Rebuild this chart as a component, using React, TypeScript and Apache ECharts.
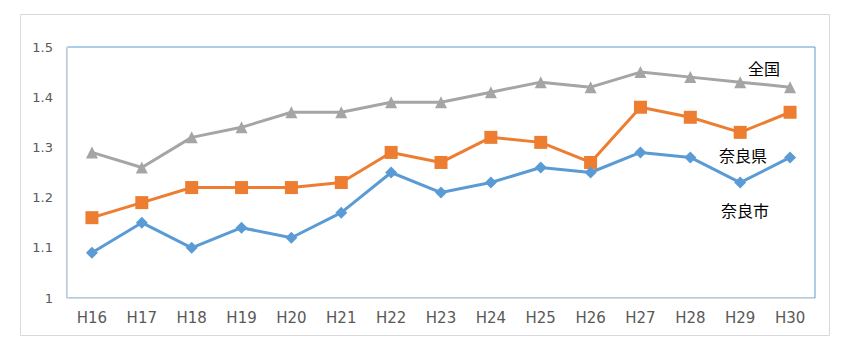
import React, { useEffect, useRef } from "react";
import * as echarts from "echarts";

const categories = ["H16", "H17", "H18", "H19", "H20", "H21", "H22", "H23", "H24", "H25", "H26", "H27", "H28", "H29", "H30"];
const zenkoku = [1.29, 1.26, 1.32, 1.34, 1.37, 1.37, 1.39, 1.39, 1.41, 1.43, 1.42, 1.45, 1.44, 1.43, 1.42];
const naraKen = [1.16, 1.19, 1.22, 1.22, 1.22, 1.23, 1.29, 1.27, 1.32, 1.31, 1.27, 1.38, 1.36, 1.33, 1.37];
const naraShi = [1.09, 1.15, 1.10, 1.14, 1.12, 1.17, 1.25, 1.21, 1.23, 1.26, 1.25, 1.29, 1.28, 1.23, 1.28];
const seriesNames = ["全国", "奈良県", "奈良市"];

export default function App() {
  const ref = useRef<HTMLDivElement>(null);
  useEffect(() => {
    if (!ref.current) return;
    const chart = echarts.init(ref.current, null, { renderer: "svg" });
    const labelFont = "'Noto Sans CJK JP', sans-serif";
    chart.setOption({
      animation: false,
      backgroundColor: "#ffffff",
      grid: {
        left: 67,
        top: 47,
        right: 39,
        bottom: 56,
        show: true,
        borderColor: "#5B9BD5",
        borderWidth: 1,
      },
      xAxis: {
        type: "category",
        data: categories,
        boundaryGap: true,
        axisLine: { lineStyle: { color: "#D9D9D9", width: 1 } },
        axisTick: { show: false },
        axisLabel: { color: "#595959", fontSize: 15, margin: 12, fontFamily: "'DejaVu Sans', sans-serif" },
      },
      yAxis: {
        type: "value",
        min: 1,
        max: 1.5,
        interval: 0.1,
        splitLine: { show: false },
        axisLine: { show: true, lineStyle: { color: "#D9D9D9", width: 1 } },
        axisTick: { show: false },
        axisLabel: { color: "#595959", fontSize: 13, margin: 14, fontFamily: "'DejaVu Sans', sans-serif" },
      },
      series: [
        {
          name: seriesNames[0],
          type: "line",
          data: zenkoku,
          symbol: "triangle",
          symbolSize: 12,
          lineStyle: { color: "#A5A5A5", width: 3 },
          itemStyle: { color: "#A5A5A5" },
        },
        {
          name: seriesNames[1],
          type: "line",
          data: naraKen,
          symbol: "rect",
          symbolSize: 13,
          lineStyle: { color: "#ED7D31", width: 3 },
          itemStyle: { color: "#ED7D31" },
        },
        {
          name: seriesNames[2],
          type: "line",
          data: naraShi,
          symbol: "diamond",
          symbolSize: 12,
          lineStyle: { color: "#5B9BD5", width: 3 },
          itemStyle: { color: "#5B9BD5" },
        },
      ],
      graphic: [
        {
          type: "rect",
          shape: { x: 20.5, y: 14.5, width: 809, height: 321 },
          style: { fill: "none", stroke: "#D9D9D9", lineWidth: 1 },
          silent: true,
          z: -10,
        },
        {
          type: "text",
          x: 764,
          y: 68,
          style: { text: seriesNames[0], fill: "#000", font: `16px ${labelFont}`, align: "center", verticalAlign: "middle" },
        },
        {
          type: "text",
          x: 743,
          y: 155,
          style: { text: seriesNames[1], fill: "#000", font: `16px ${labelFont}`, align: "center", verticalAlign: "middle" },
        },
        {
          type: "text",
          x: 745,
          y: 210,
          style: { text: seriesNames[2], fill: "#000", font: `16px ${labelFont}`, align: "center", verticalAlign: "middle" },
        },
      ],
    });
    return () => chart.dispose();
  }, []);
  return <div ref={ref} style={{ position: "fixed", left: 0, top: 0, width: 854, height: 354 }} />;
}
